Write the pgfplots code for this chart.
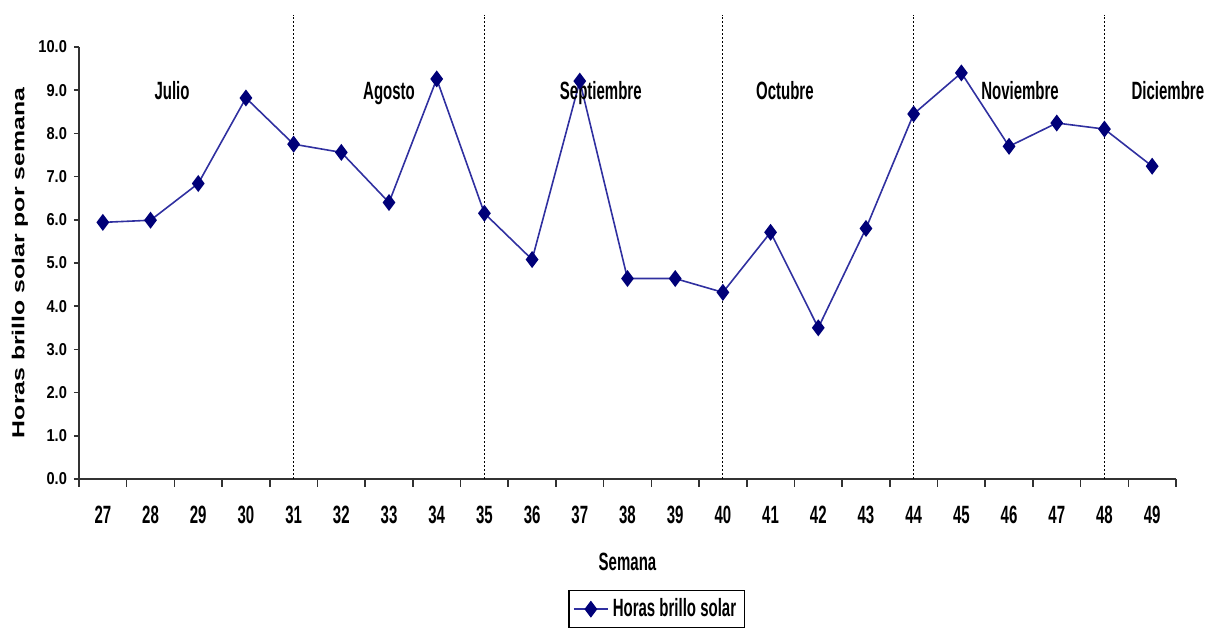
\documentclass[border=0pt]{standalone}
\usepackage{fontspec}
\setmainfont{Liberation Sans}[FakeStretch=0.6]
\newfontfamily\ylabfont{Liberation Sans}
\newfontfamily\ytickfont{Liberation Sans}[FakeStretch=0.85]
\usepackage{graphicx}
\usepackage{pgfplots}
\usepackage{pgfplotstable}
\pgfplotsset{compat=1.18}
\definecolor{linecol}{RGB}{48,48,160}
\definecolor{markcol}{RGB}{0,0,120}
\definecolor{axcol}{RGB}{50,50,50}

\pgfplotstableread{
idx val
0 5.94
1 5.99
2 6.84
3 8.82
4 7.75
5 7.56
6 6.40
7 9.26
8 6.15
9 5.08
10 9.21
11 4.64
12 4.64
13 4.32
14 5.71
15 3.50
16 5.80
17 8.45
18 9.40
19 7.70
20 8.24
21 8.10
22 7.24
}\datatable

\begin{document}
\begin{tikzpicture}
\begin{axis}[
  scale only axis, width=548.5pt, height=216pt,
  xmin=-0.5, xmax=22.5, ymin=0, ymax=10,
  clip=false,
  axis x line*=bottom, axis y line*=left,
  axis line style={axcol, line width=0.9pt, -},
  tick align=outside,
  xtick={0,...,22},
  xticklabels={27,28,29,30,31,32,33,34,35,36,37,38,39,40,41,42,43,44,45,46,47,48,49},
  major x tick style={draw=none},
  minor xtick={-0.5,0.5,...,22.5},
  minor tick length=4pt,
  major tick length=2.5pt,
  tick style={axcol, line width=0.8pt},
  ytick={0,1,...,10},
  xticklabel style={font=\fontsize{12.5}{14}\selectfont\bfseries, yshift=-7.5pt},
  yticklabel style={font=\ytickfont\fontsize{8.6}{10}\selectfont\bfseries,
    /pgf/number format/.cd, fixed, fixed zerofill, precision=1, assume math mode=true},
  xlabel={Semana},
  xlabel style={at={(axis description cs:0.5,0)}, anchor=center, yshift=-41.5pt, font=\fontsize{12.5}{14}\selectfont\bfseries},
  ylabel={\scalebox{1}[0.7]{\ylabfont\fontsize{12.4}{14}\selectfont\bfseries Horas brillo solar por semana}},
  ylabel style={at={(axis description cs:-0.0538,0.5)}, anchor=center, rotate=0},
  legend style={at={(axis description cs:0.5265,-0.257)}, anchor=north, draw=black, line width=0.6pt,
    font=\fontsize{12.5}{14}\selectfont\bfseries, inner sep=2pt},
  legend cell align=left,
]
\addplot[color=linecol, line width=0.8pt, mark=diamond*, mark size=3.6pt,
  mark options={fill=markcol, draw=markcol, solid}] table[x=idx, y=val] {\datatable};
\addlegendentry{Horas brillo solar}
\pgfplotsinvokeforeach{4,8,13,17,21}{
  \draw[black, line width=0.6pt, dash pattern=on 1pt off 1pt] (axis cs:#1,0) -- (axis cs:#1,10.75);
}
\begin{scope}[font=\fontsize{12.5}{14}\selectfont\bfseries]
\node[anchor=base] at (axis cs:1.45,8.79) {Julio};
\node[anchor=base] at (axis cs:6.0,8.79) {Agosto};
\node[anchor=base] at (axis cs:10.44,8.79) {Septiembre};
\node[anchor=base] at (axis cs:14.3,8.79) {Octubre};
\node[anchor=base] at (axis cs:19.23,8.79) {Noviembre};
\node[anchor=base] at (axis cs:22.33,8.79) {Diciembre};
\end{scope}
\end{axis}
\pgfresetboundingbox
\path (current axis.south west) ++(-39.5pt,-75.5pt) rectangle ++(603.5pt,315pt);
\end{tikzpicture}
\end{document}
